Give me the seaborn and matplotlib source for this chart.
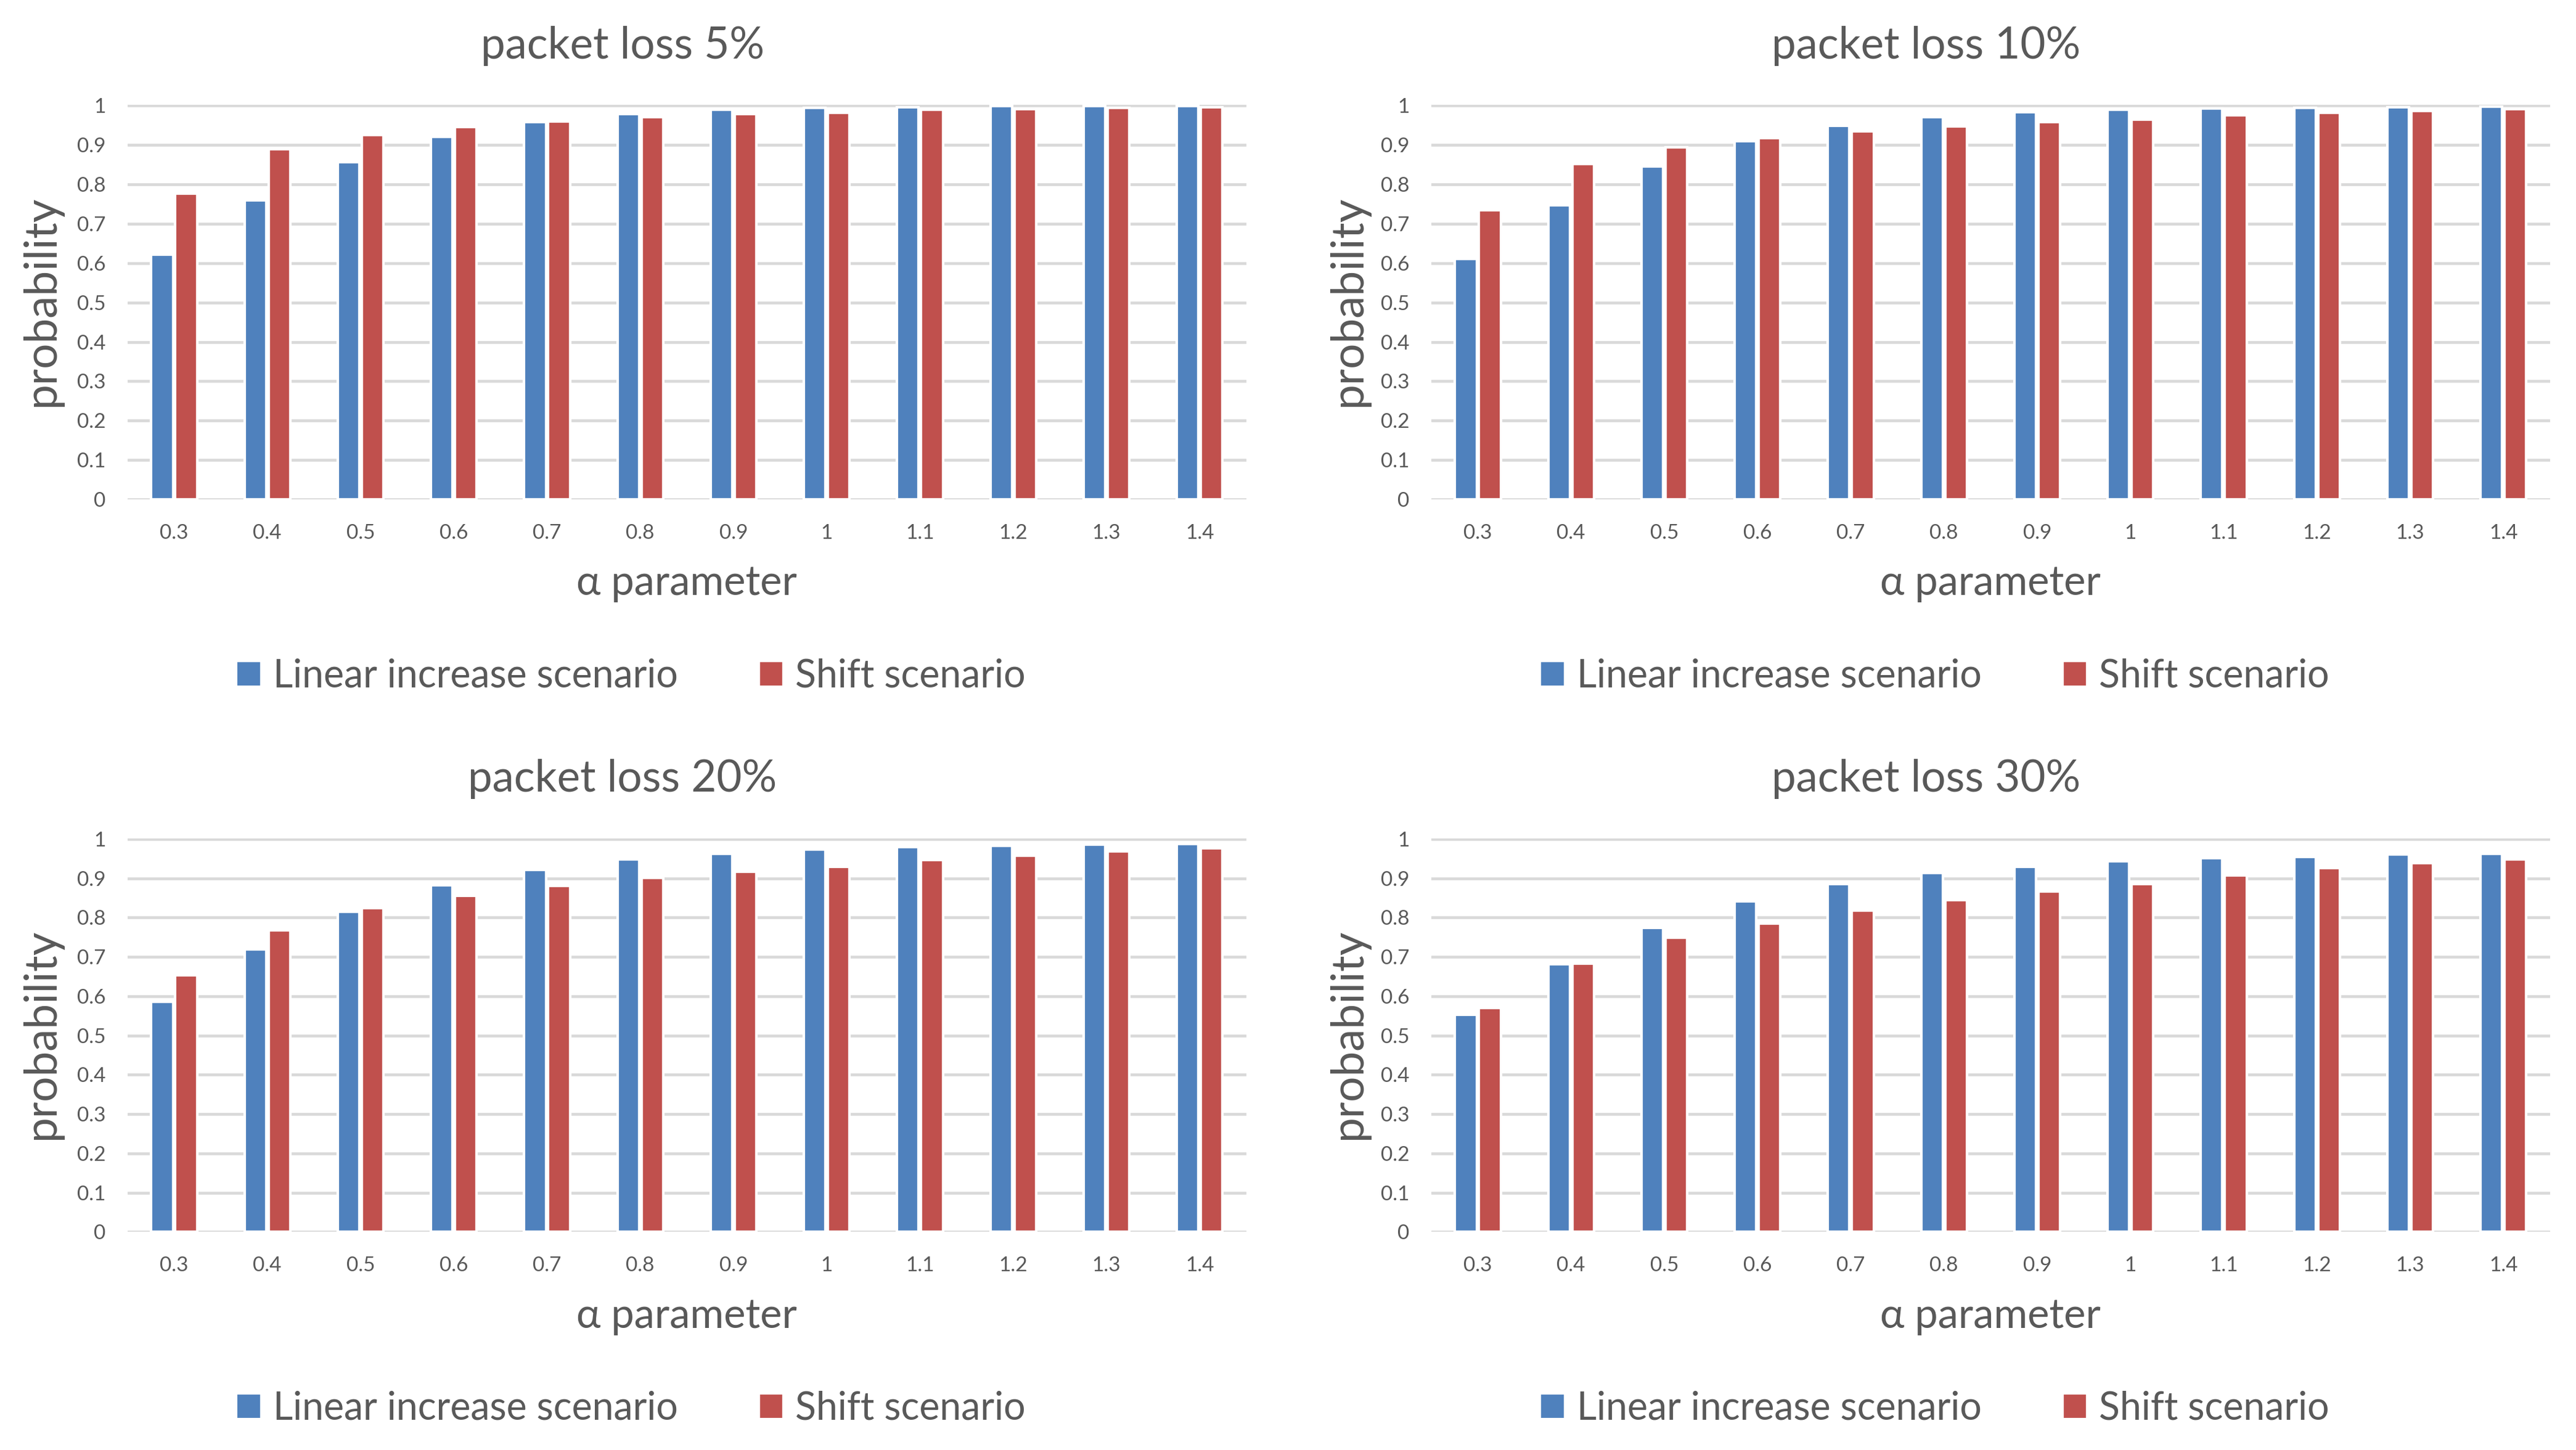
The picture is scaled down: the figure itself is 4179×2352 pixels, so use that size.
import matplotlib
matplotlib.use("Agg")
import matplotlib.pyplot as plt
import pandas as pd
import seaborn as sns

# alpha values on the x axis
alphas = ["0.3", "0.4", "0.5", "0.6", "0.7", "0.8", "0.9", "1", "1.1", "1.2", "1.3", "1.4"]
series_names = ["Linear increase scenario", "Shift scenario"]
titles = ["packet loss 5%", "packet loss 10%", "packet loss 20%", "packet loss 30%"]

# values
linear_5 = [0.622, 0.760, 0.857, 0.920, 0.958, 0.979, 0.990, 0.995, 0.996, 0.999, 0.999, 0.999]
shift_5 = [0.776, 0.890, 0.926, 0.946, 0.960, 0.970, 0.978, 0.982, 0.989, 0.991, 0.995, 0.996]
linear_10 = [0.611, 0.747, 0.846, 0.909, 0.949, 0.971, 0.983, 0.990, 0.993, 0.995, 0.996, 0.998]
shift_10 = [0.735, 0.851, 0.894, 0.918, 0.935, 0.948, 0.958, 0.965, 0.976, 0.982, 0.987, 0.991]
linear_20 = [0.586, 0.719, 0.815, 0.882, 0.922, 0.948, 0.963, 0.973, 0.979, 0.982, 0.986, 0.987]
shift_20 = [0.654, 0.768, 0.825, 0.856, 0.881, 0.901, 0.917, 0.929, 0.946, 0.958, 0.968, 0.976]
linear_30 = [0.553, 0.682, 0.774, 0.841, 0.885, 0.913, 0.930, 0.943, 0.951, 0.955, 0.960, 0.962]
shift_30 = [0.570, 0.683, 0.749, 0.785, 0.818, 0.845, 0.866, 0.885, 0.907, 0.926, 0.938, 0.948]

panels = [
    (linear_5, shift_5),
    (linear_10, shift_10),
    (linear_20, shift_20),
    (linear_30, shift_30),
]

sns.set_style("white")
plt.rcParams["font.family"] = ["Lato", "DejaVu Sans"]

text_color = "#595959"
grid_color = "#D9D9D9"
palette = {series_names[0]: "#4F81BD", series_names[1]: "#C0504D"}

fig = plt.figure(figsize=(4179 / 300, 2352 / 300), dpi=300)

# axes rectangles (left, bottom, width, height) in figure fraction
rects = [
    (0.0495, 0.6556, 0.4343, 0.2721),
    (0.5556, 0.6556, 0.4343, 0.2721),
    (0.0495, 0.1503, 0.4343, 0.2716),
    (0.5556, 0.1503, 0.4343, 0.2716),
]
ylabel_x = [-0.077, -0.074, -0.077, -0.074]

for i, (rect, title, (lin, shf)) in enumerate(zip(rects, titles, panels)):
    ax = fig.add_axes(rect)
    df = pd.DataFrame({
        "alpha": alphas * 2,
        "probability": lin + shf,
        "scenario": [series_names[0]] * len(alphas) + [series_names[1]] * len(alphas),
    })
    sns.barplot(data=df, x="alpha", y="probability", hue="scenario",
                order=alphas, hue_order=series_names, palette=palette,
                width=0.517, gap=0.10, saturation=1, ax=ax)

    ax.set_ylim(0, 1.002)
    ax.set_yticks([k / 10 for k in range(11)])
    ax.set_yticklabels(["0"] + [f"0.{k}" for k in range(1, 10)] + ["1"])
    ax.grid(axis="y", color=grid_color, linewidth=1.1)
    ax.set_axisbelow(True)
    for s in ax.spines.values():
        s.set_visible(False)
    ax.tick_params(axis="both", length=0, labelsize=8, labelcolor=text_color)
    ax.tick_params(axis="x", pad=9.5)
    ax.tick_params(axis="y", pad=8.5)

    ax.set_xlabel("α parameter", fontsize=16, color=text_color)
    ax.xaxis.set_label_coords(0.5, -0.213)
    ax.xaxis.label.set_va("center")
    ax.set_ylabel("probability", fontsize=17.5, color=text_color)
    ax.yaxis.set_label_coords(ylabel_x[i], 0.504)
    ax.yaxis.label.set_va("center")

    ax.text(0.4425, 1.15, title, transform=ax.transAxes, ha="center", va="center",
            fontsize=17, color=text_color)

    handles, labels = ax.get_legend_handles_labels()
    ax.legend(handles, labels, loc="center", bbox_to_anchor=(0.45, -0.448), ncol=2,
              frameon=False, fontsize=15, labelcolor=text_color,
              handlelength=0.65, handleheight=0.65, handletextpad=0.3, columnspacing=2.1)

plt.savefig("out.png", dpi=300)
